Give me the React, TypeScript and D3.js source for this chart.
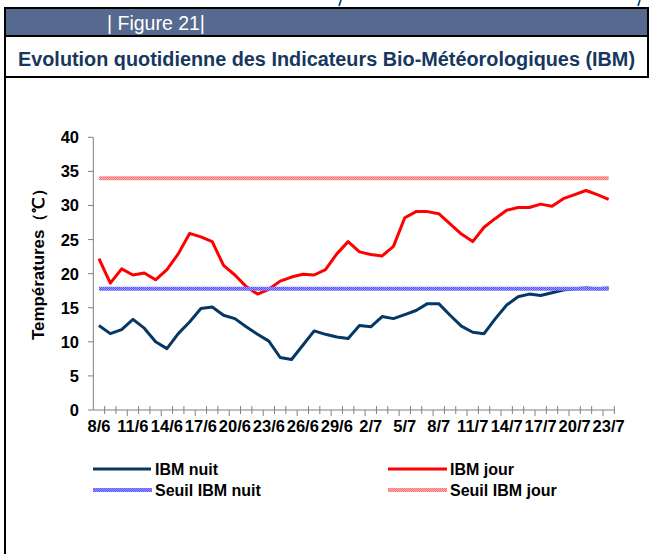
import React from 'react';
import * as d3 from 'd3';

// categories (one per day, 8 June -> 23 July)
const dates = [
  '8/6', '9/6', '10/6', '11/6', '12/6', '13/6', '14/6', '15/6', '16/6', '17/6',
  '18/6', '19/6', '20/6', '21/6', '22/6', '23/6', '24/6', '25/6', '26/6', '27/6',
  '28/6', '29/6', '30/6', '1/7', '2/7', '3/7', '4/7', '5/7', '6/7', '7/7',
  '8/7', '9/7', '10/7', '11/7', '12/7', '13/7', '14/7', '15/7', '16/7', '17/7',
  '18/7', '19/7', '20/7', '21/7', '22/7', '23/7',
];

const ibmNuit = [
  12.4, 11.2, 11.8, 13.3, 12.0, 10.0, 9.0, 11.2, 12.9, 14.9,
  15.1, 13.9, 13.4, 12.2, 11.1, 10.1, 7.7, 7.4, 9.5, 11.6,
  11.1, 10.7, 10.5, 12.4, 12.2, 13.7, 13.4, 14.0, 14.6, 15.6,
  15.6, 13.9, 12.3, 11.4, 11.2, 13.4, 15.4, 16.6, 17.0, 16.8,
  17.2, 17.6, 17.8, 17.9, 17.8, 17.9,
];

const ibmJour = [
  22.2, 18.6, 20.7, 19.8, 20.1, 19.1, 20.6, 22.9, 25.9, 25.4,
  24.7, 21.2, 19.8, 18.1, 17.0, 17.7, 18.9, 19.5, 19.9, 19.8,
  20.6, 22.9, 24.7, 23.2, 22.8, 22.6, 24.0, 28.2, 29.1, 29.1,
  28.8, 27.3, 25.8, 24.7, 26.8, 28.1, 29.3, 29.7, 29.7, 30.2,
  29.9, 31.0, 31.6, 32.2, 31.6, 30.9,
];

const seuilNuit = 17.8;
const seuilJour = 34;

const yTicks = [0, 5, 10, 15, 20, 25, 30, 35, 40];

const FONT = '"Liberation Sans", Arial, sans-serif';
const NAVY = '#063865';

const App: React.FC = () => {
  const x = d3.scaleBand<string>().domain(dates).range([93.3, 614.3]).padding(0);
  const cx = (d: string) => (x(d) as number) + x.bandwidth() / 2;
  const y = d3.scaleLinear().domain([0, 40]).range([410, 137.3]);

  const line = d3.line<number>()
    .x((_, i) => cx(dates[i]))
    .y(d => y(d));

  const first = cx(dates[0]);
  const last = cx(dates[dates.length - 1]);

  return (
    <svg width={652} height={554} style={{ position: 'absolute', left: 0, top: 0, background: '#fff' }}>
      <defs>
        <pattern id="patBlue" width="2" height="2" patternUnits="userSpaceOnUse">
          <rect width="2" height="2" fill="#9a9aff" />
          <rect width="1" height="1" fill="#5555ff" />
          <rect x="1" y="1" width="1" height="1" fill="#5555ff" />
        </pattern>
        <pattern id="patRed" width="2" height="2" patternUnits="userSpaceOnUse">
          <rect width="2" height="2" fill="#ffb0b0" />
          <rect width="1" height="1" fill="#ff7070" />
          <rect x="1" y="1" width="1" height="1" fill="#ff7070" />
        </pattern>
      </defs>

      {/* descenders of the page line above, cut by the crop */}
      <line x1={341} x2={339} y1={0} y2={6} stroke={NAVY} strokeWidth={1.6} />
      <line x1={640} x2={638} y1={0} y2={6} stroke={NAVY} strokeWidth={1.6} />

      {/* header band */}
      <rect x={5} y={8} width={643} height={28} fill="#56698f" stroke="#000" strokeWidth={2} />
      <text x={107} y={30} fontFamily={FONT} fontSize={19.5} fill="#fff">| Figure 21|</text>

      {/* title row */}
      <rect x={5} y={36} width={643} height={41} fill="#fff" stroke="#000" strokeWidth={2} />
      <text x={18} y={66} fontFamily={FONT} fontWeight="bold" fontSize={19.5} fill="#17375e"
        textLength={617} lengthAdjust="spacingAndGlyphs">
        Evolution quotidienne des Indicateurs Bio-Météorologiques (IBM)
      </text>

      {/* left border of the chart frame */}
      <line x1={5} x2={5} y1={77} y2={554} stroke="#000" strokeWidth={2} />

      {/* y axis */}
      <line x1={93.3} x2={93.3} y1={y(40)} y2={y(0)} stroke="#808080" strokeWidth={1} />
      {yTicks.map(t => (
        <g key={t}>
          <line x1={88} x2={93.3} y1={y(t)} y2={y(t)} stroke="#808080" />
          <text x={79} y={y(t)} dy="0.36em" textAnchor="end" fontFamily={FONT} fontWeight="bold" fontSize={16.5}>{t}</text>
        </g>
      ))}
      <text transform={`translate(44,${260}) rotate(-90)`} textAnchor="middle" fontFamily={FONT}
        fontWeight="bold" fontSize={16} textLength={160} lengthAdjust="spacingAndGlyphs">Températures（℃）</text>

      {/* x axis */}
      <line x1={93.3} x2={614.3} y1={y(0)} y2={y(0)} stroke="#808080" />
      {d3.range(1, dates.length + 1).map(i => {
        const bx = 93.3 + i * x.bandwidth();
        const major = i % 3 === 0;
        return (
          <line key={i} x1={bx} x2={bx} y1={major ? y(0) : y(0) - 4} y2={y(0) + (major ? 6 : 4)} stroke="#808080" />
        );
      })}
      {dates.map((d, i) => (i % 3 === 0 ? (
        <text key={d} x={cx(d)} y={432} textAnchor="middle" fontFamily={FONT} fontWeight="bold" fontSize={16.5}>{d}</text>
      ) : null))}

      {/* series */}
      <path d={line(ibmNuit) as string} fill="none" stroke={NAVY} strokeWidth={3} strokeLinejoin="round" />
      <path d={line(ibmJour) as string} fill="none" stroke="#ff0000" strokeWidth={3} strokeLinejoin="round" />
      <line x1={first} x2={last} y1={y(seuilNuit)} y2={y(seuilNuit)} stroke="url(#patBlue)" strokeWidth={4} />
      <line x1={first} x2={last} y1={y(seuilJour)} y2={y(seuilJour)} stroke="url(#patRed)" strokeWidth={4} />

      {/* legend */}
      <line x1={93} x2={151} y1={469} y2={469} stroke={NAVY} strokeWidth={3} />
      <text x={155} y={474.5} fontFamily={FONT} fontWeight="bold" fontSize={16}>IBM nuit</text>
      <line x1={93} x2={152} y1={490} y2={490} stroke="url(#patBlue)" strokeWidth={4} />
      <text x={155} y={495.5} fontFamily={FONT} fontWeight="bold" fontSize={16}>Seuil IBM nuit</text>
      <line x1={388} x2={447} y1={469} y2={469} stroke="#ff0000" strokeWidth={3} />
      <text x={450} y={474.5} fontFamily={FONT} fontWeight="bold" fontSize={16}>IBM jour</text>
      <line x1={388} x2={447} y1={490} y2={490} stroke="url(#patRed)" strokeWidth={4} />
      <text x={450} y={495.5} fontFamily={FONT} fontWeight="bold" fontSize={16}>Seuil IBM jour</text>
    </svg>
  );
};

export default App;
